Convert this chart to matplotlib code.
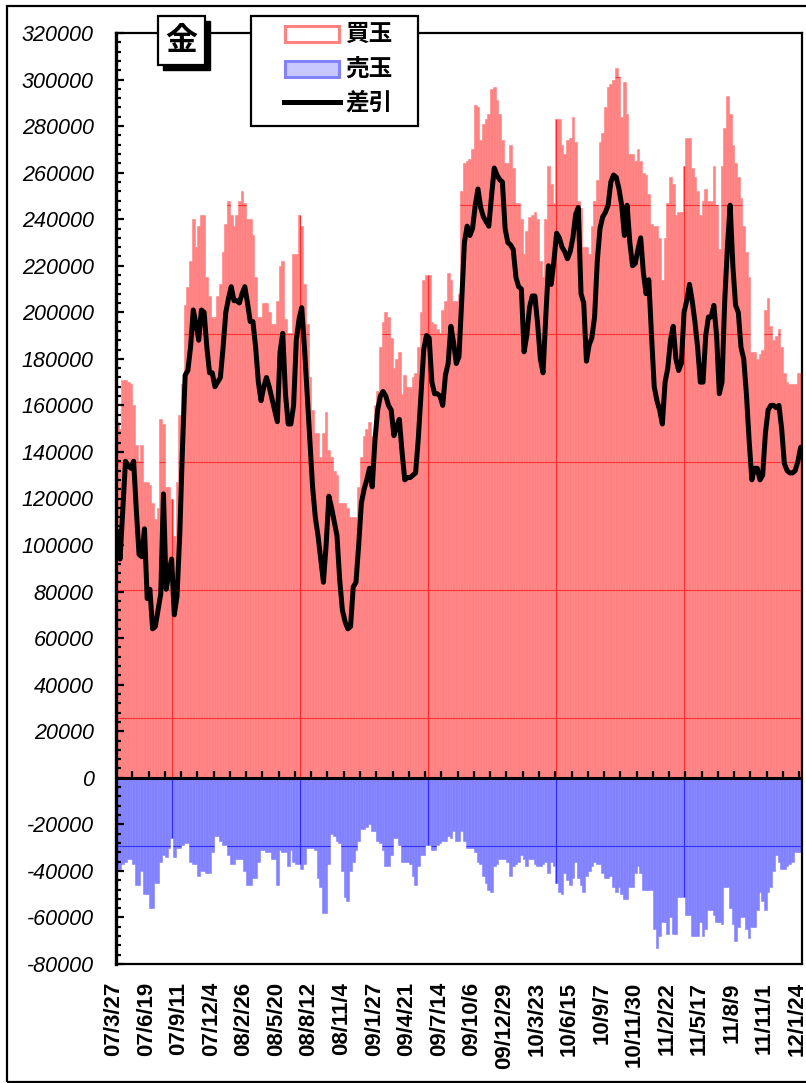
import numpy as np
import matplotlib
matplotlib.use("Agg")
import matplotlib.pyplot as plt
from matplotlib.patches import Rectangle
from matplotlib.lines import Line2D
from matplotlib.ticker import MultipleLocator
from matplotlib.transforms import ScaledTranslation

plt.rcParams['font.family'] = ['Liberation Sans', 'Noto Sans CJK JP', 'DejaVu Sans']

# ---------------- data (values in thousands of contracts) ----------------
date_labels = ["07/3/27", "07/6/19", "07/9/11", "07/12/4", "08/2/26", "08/5/20",
               "08/8/12", "08/11/4", "09/1/27", "09/4/21", "09/7/14", "09/10/6",
               "09/12/29", "10/3/23", "10/6/15", "10/9/7", "10/11/30", "11/2/22",
               "11/5/17", "11/8/9", "11/11/1", "12/1/24"]
label_step = 12  # one label every 12 weekly bars

buy_k = [153, 150, 171, 171, 170, 169, 160, 143, 136, 143,
         127, 127, 126, 118, 111, 116, 154, 152, 125, 125,
         120, 104, 127, 156, 169, 203, 211, 222, 240, 228,
         237, 242, 242, 215, 207, 198, 198, 207, 212, 226,
         238, 248, 242, 237, 242, 248, 252, 247, 240, 240,
         233, 215, 198, 198, 204, 204, 200, 195, 195, 205,
         220, 222, 197, 191, 191, 225, 225, 242, 237, 212,
         195, 172, 158, 148, 148, 138, 148, 157, 141, 138,
         132, 130, 118, 118, 118, 116, 112, 112, 112, 125,
         138, 147, 150, 153, 147, 160, 166, 185, 196, 200,
         198, 189, 176, 180, 183, 165, 173, 168, 168, 172,
         174, 185, 200, 214, 216, 216, 196, 195, 193, 191,
         201, 205, 217, 214, 205, 205, 208, 252, 264, 265,
         266, 270, 289, 288, 274, 281, 283, 285, 296, 297,
         291, 285, 274, 264, 264, 272, 262, 247, 247, 240,
         225, 235, 241, 242, 243, 240, 222, 215, 240, 263,
         255, 247, 283, 283, 272, 268, 274, 275, 284, 273,
         248, 245, 228, 228, 225, 237, 248, 257, 273, 277,
         288, 297, 298, 300, 305, 301, 284, 299, 285, 268,
         268, 265, 270, 265, 260, 259, 251, 238, 237, 237,
         232, 214, 232, 247, 258, 255, 242, 243, 243, 263,
         275, 275, 262, 258, 252, 242, 248, 253, 248, 248,
         263, 246, 227, 263, 279, 293, 285, 272, 264, 258,
         249, 237, 226, 215, 183, 183, 180, 182, 184, 201,
         206, 194, 188, 190, 193, 185, 174, 170, 169, 169,
         169, 174, 174]

sell_k = [-39, -39, -37, -36, -35, -35, -37, -46, -46, -40,
          -50, -50, -56, -56, -45, -45, -36, -33, -34, -30,
          -26, -34, -30, -30, -29, -28, -28, -36, -37, -37,
          -42, -40, -40, -41, -41, -32, -25, -25, -27, -29,
          -29, -33, -37, -37, -35, -35, -35, -40, -46, -46,
          -43, -43, -36, -31, -31, -32, -32, -35, -35, -46,
          -31, -32, -32, -38, -31, -36, -37, -37, -39, -37,
          -30, -30, -30, -31, -43, -47, -58, -58, -37, -24,
          -25, -27, -28, -40, -51, -53, -40, -36, -31, -27,
          -22, -22, -21, -20, -23, -23, -27, -28, -31, -38,
          -38, -33, -26, -26, -29, -36, -36, -36, -37, -42,
          -46, -38, -33, -33, -29, -29, -31, -31, -29, -28,
          -27, -27, -25, -26, -23, -27, -27, -23, -27, -30,
          -30, -30, -32, -36, -37, -42, -45, -48, -49, -38,
          -37, -35, -35, -35, -36, -42, -38, -37, -36, -33,
          -35, -38, -35, -35, -37, -38, -38, -37, -36, -41,
          -36, -38, -45, -49, -50, -41, -44, -46, -43, -36,
          -43, -46, -49, -42, -40, -38, -36, -37, -37, -41,
          -43, -43, -42, -47, -49, -47, -50, -52, -52, -47,
          -47, -41, -38, -41, -48, -48, -48, -48, -65, -73,
          -68, -62, -62, -67, -60, -67, -67, -51, -51, -51,
          -59, -59, -68, -68, -68, -62, -68, -65, -57, -57,
          -59, -62, -62, -63, -47, -47, -56, -63, -70, -64,
          -60, -60, -65, -69, -64, -64, -57, -49, -53, -57,
          -49, -47, -40, -33, -36, -39, -39, -38, -37, -36,
          -32, -32, -32]

net_k = [106, 94, 115, 136, 134, 133, 136, 115, 96, 95,
         107, 77, 81, 64, 65, 72, 79, 122, 81, 88,
         94, 70, 78, 104, 141, 173, 175, 185, 201, 195,
         188, 201, 200, 185, 174, 174, 168, 170, 172, 185,
         200, 206, 211, 205, 205, 204, 208, 211, 204, 196,
         196, 185, 170, 162, 168, 172, 168, 163, 158, 153,
         183, 191, 165, 152, 152, 160, 188, 197, 202, 185,
         165, 145, 125, 112, 104, 94, 84, 100, 121, 116,
         110, 104, 85, 72, 67, 64, 65, 82, 84, 100,
         118, 124, 128, 133, 125, 145, 158, 164, 166, 164,
         160, 158, 147, 151, 154, 140, 128, 129, 129, 130,
         131, 146, 165, 184, 190, 189, 170, 165, 165, 164,
         160, 173, 178, 194, 187, 178, 181, 205, 230, 237,
         233, 236, 246, 253, 245, 241, 239, 237, 250, 262,
         259, 257, 256, 236, 230, 229, 227, 215, 211, 210,
         183, 190, 202, 207, 207, 195, 180, 174, 198, 220,
         212, 222, 234, 232, 228, 226, 223, 226, 232, 242,
         245, 208, 204, 179, 186, 189, 198, 222, 236, 241,
         243, 246, 256, 259, 258, 253, 246, 233, 246, 230,
         220, 221, 227, 232, 217, 208, 214, 190, 168, 162,
         158, 152, 170, 176, 188, 194, 180, 175, 178, 200,
         205, 212, 205, 196, 185, 170, 170, 190, 198, 198,
         203, 190, 165, 170, 205, 228, 246, 220, 203, 200,
         185, 180, 165, 145, 128, 133, 133, 128, 130, 148,
         158, 160, 160, 159, 160, 150, 135, 132, 131, 131,
         132, 136, 142]

series_names = ["買玉", "売玉", "差引"]
title_text = "金"

# ---------------- styling ----------------
RED = "#FF8282"
BLUE = "#8282FF"
RED_GRID = "#FF2A2A"
BLUE_GRID = "#2A2AFF"
LEG_BLUE_FACE = "#C8C8FF"

W, H = 806, 1083
fig = plt.figure(figsize=(W / 100, H / 100), dpi=100)


def fx(px):
    return px / W


def fy(py):
    return 1 - py / H


ax = fig.add_axes([fx(116), fy(964), fx(802) - fx(116), fy(33) - fy(964)])

buy = np.array(buy_k) * 1000
sell = np.array(sell_k) * 1000
net = np.array(net_k) * 1000
n = len(buy)
x = np.arange(n)

ax.bar(x, buy, width=1.0, color=RED, edgecolor=RED, linewidth=0.4, zorder=1)
ax.bar(x, sell, width=1.0, color=BLUE, edgecolor=BLUE, linewidth=0.4, zorder=1)

# background grid that only shows through the filled areas
grid_x = [20.27, 67.48, 114.7, 161.9, 209.1]
grid_y = [25800 + 55030 * k for k in range(-1, 6)]
for gx in grid_x:
    j = int(round(gx))
    ax.vlines(gx, 0, buy[j], color=RED_GRID, lw=0.8, zorder=2)
    ax.vlines(gx, sell[j], 0, color=BLUE_GRID, lw=0.8, zorder=2)
for gy in grid_y:
    if gy > 0:
        m = buy >= gy
        c = RED_GRID
    else:
        m = sell <= gy
        c = BLUE_GRID
    ax.hlines(np.full(m.sum(), gy), x[m] - 0.5, x[m] + 0.5, color=c, lw=0.8, zorder=2)

ax.plot(x, net, color="black", lw=3.6, zorder=4, solid_joinstyle="round",
        solid_capstyle="round")

# zero axis line with small upward ticks every 6 weeks
ax.axhline(0, color="black", lw=2.2, zorder=5)
ax.vlines(np.arange(-0.5, n, 6), 0, 3000, color="black", lw=1.6, zorder=5)

ax.set_xlim(-0.5, n - 0.5)
ax.set_ylim(-80000, 320000)

yt = np.arange(-80000, 320001, 20000)
ax.set_yticks(yt)
ax.set_yticklabels([f"{v:d}" for v in yt], fontstyle="italic", fontsize=15.5)
ax.yaxis.set_minor_locator(MultipleLocator(4000))
ax.tick_params(axis="y", which="major", direction="in", length=5.5, width=1.6, pad=16)
ax.tick_params(axis="y", which="minor", direction="in", length=3.5, width=1.6)

ax.set_xticks(x[::label_step])
ax.set_xticklabels(date_labels, rotation=90, fontweight="bold", fontsize=16,
                   va="top", ha="center")
ax.tick_params(axis="x", length=0, pad=13)
shift = ScaledTranslation(-3.5 / 100, 0, fig.dpi_scale_trans)
for lbl in ax.get_xticklabels():
    lbl.set_transform(lbl.get_transform() + shift)

ax.spines["left"].set_linewidth(2.4)
for s in ["right", "top", "bottom"]:
    ax.spines[s].set_linewidth(1.6)
for s in ax.spines.values():
    s.set_zorder(6)

# ---------------- title box with shadow ----------------
tf = fig.transFigure
fig.patches.append(Rectangle((fx(163), fy(70)), fx(210) - fx(163), fy(21) - fy(70),
                             transform=tf, facecolor="black", edgecolor="black", zorder=10))
fig.patches.append(Rectangle((fx(158), fy(65)), fx(205) - fx(158), fy(16) - fy(65),
                             transform=tf, facecolor="white", edgecolor="black", lw=1.6,
                             zorder=11))
fig.text(fx(181.5), fy(41), title_text, ha="center", va="center", fontsize=23,
         fontweight="bold", family=["Noto Sans CJK JP"], zorder=12)

# ---------------- legend ----------------
fig.patches.append(Rectangle((fx(251), fy(126)), fx(418) - fx(251), fy(16) - fy(126),
                             transform=tf, facecolor="white", edgecolor="black", lw=1.6,
                             zorder=10))
fig.patches.append(Rectangle((fx(285), fy(42)), fx(339) - fx(285), fy(26) - fy(42),
                             transform=tf, facecolor="white", edgecolor=RED, lw=2.2,
                             zorder=11))
fig.patches.append(Rectangle((fx(285), fy(77)), fx(339) - fx(285), fy(61) - fy(77),
                             transform=tf, facecolor=LEG_BLUE_FACE, edgecolor=BLUE, lw=2.2,
                             zorder=11))
fig.lines.append(Line2D([fx(284), fx(340)], [fy(102), fy(102)], transform=tf,
                        color="black", lw=3.6, zorder=11))
for name, yy in zip(series_names, [34, 69, 103]):
    fig.text(fx(345), fy(yy), name, ha="left", va="center", fontsize=17,
             fontweight="bold", family=["Noto Sans CJK JP"], zorder=12)

# outer frame
fig.patches.append(Rectangle((fx(7), fy(1082)), fx(830) - fx(7), fy(6) - fy(1082),
                             transform=tf, facecolor="none", edgecolor="black", lw=1.6,
                             zorder=10))

fig.savefig("out.png", dpi=100)
